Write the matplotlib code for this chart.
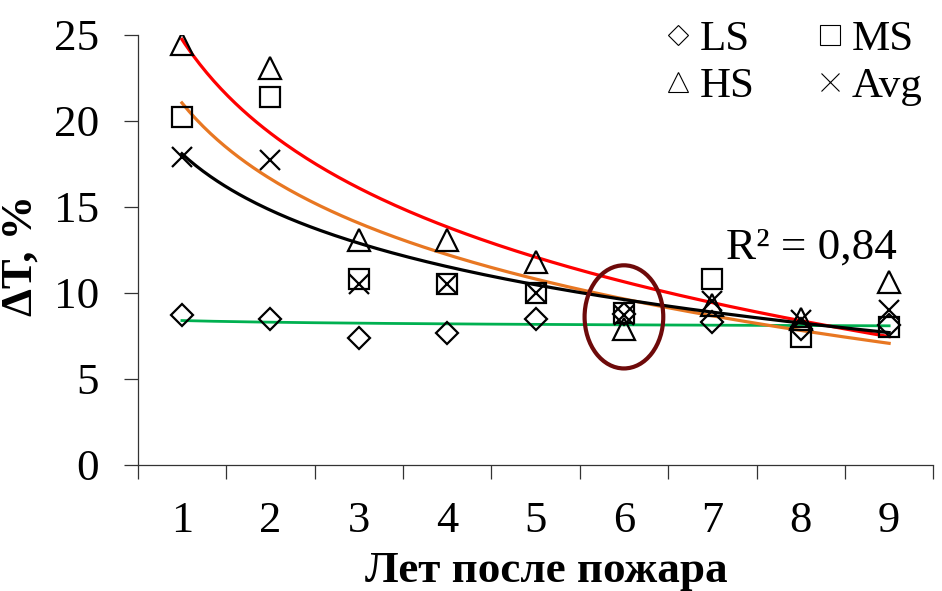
import numpy as np
import matplotlib
matplotlib.use("Agg")
import matplotlib.pyplot as plt
from matplotlib.lines import Line2D
from matplotlib.patches import Ellipse

plt.rcParams['font.family'] = ['Liberation Serif', 'DejaVu Serif']

years = [1, 2, 3, 4, 5, 6, 7, 8, 9]
ls_vals = [8.7, 8.46, 7.35, 7.68, 8.46, 8.75, 8.3, 7.9, 8.1]
ms_vals = [20.2, 21.4, 10.8, 10.5, 10.0, 8.8, 10.8, 7.45, 8.0]
hs_vals = [24.5, 23.1, 13.1, 13.1, 11.8, 7.9, 9.3, 8.5, 10.65]
avg_vals = [17.9, 17.7, 10.5, 10.5, 10.0, 8.7, 9.5, 8.4, 9.0]
ytick_vals = [0, 5, 10, 15, 20, 25]
r2_label = "R² = 0,84"
x_label = "Лет после пожара"
y_label = "ΔT, %"

fig = plt.figure(figsize=(9.42, 5.91), dpi=100)
ax = fig.add_axes([0.1462, 0.2137, 0.8446, 0.7271])

x = np.array(years, dtype=float)
xs = np.linspace(x.min(), x.max(), 200)

def log_fit(vals):
    b, a = np.polyfit(np.log(x), np.array(vals, dtype=float), 1)
    return a + b * np.log(xs)

# trend lines
ax.plot(xs, log_fit(ls_vals), color='#00B050', lw=2.0, zorder=2)
ax.plot(xs, log_fit(hs_vals), color='#FF0000', lw=2.3, zorder=2)
ax.plot(xs, log_fit(ms_vals), color='#E87722', lw=2.3, zorder=2)
ax.plot(xs, log_fit(avg_vals), color='#000000', lw=2.3, zorder=2)

mk = dict(ls='none', mfc='none', mec='black', mew=1.6, zorder=3)
ax.plot(years, ls_vals, marker='D', ms=11.5, **mk)
ax.plot(years, ms_vals, marker='s', ms=15, **mk)
ax.plot(years, hs_vals, marker='^', ms=16, **mk)
ax.plot(years, avg_vals, marker='x', ms=15, **mk)

# highlight ellipse
ax.add_patch(Ellipse((6, 8.6), 0.89, 6.0, fill=False, ec='#6E0A0A', lw=3.0, zorder=4))

ax.text(7.16, 12.0, r2_label, fontsize=32.5, ha='left', va='baseline')

ax.set_xlim(0.5, 9.5)
ax.set_ylim(0, 25)
ax.set_yticks(ytick_vals)
ax.set_xticks(np.arange(0.5, 10.0, 1.0))
ax.set_xticklabels([])
ax.set_xticks(years, minor=True)
ax.set_xticklabels([str(v) for v in years], minor=True)
ax.tick_params(axis='x', which='major', direction='out', length=10, width=0.9, color='#333333')
ax.tick_params(axis='x', which='minor', length=0, pad=26, labelsize=32)
ax.tick_params(axis='y', direction='out', length=10, width=0.9, color='#333333', pad=18, labelsize=32.5)
for s in ['top', 'right']:
    ax.spines[s].set_visible(False)
for s in ['left', 'bottom']:
    ax.spines[s].set_linewidth(0.9)
    ax.spines[s].set_color('#333333')

fig.text(546/942, 1-582/591, x_label, fontsize=32.5, fontweight='bold', ha='center', va='baseline')
fig.text(21/942, 1-255/591, y_label, fontsize=32, fontweight='bold', rotation=90, ha='center', va='center')

lk = dict(ls='none', mfc='none', mec='black', mew=0.8)
handles = [Line2D([], [], marker='D', ms=10, **lk),
           Line2D([], [], marker='^', ms=14, **lk),
           Line2D([], [], marker='s', ms=14, **lk),
           Line2D([], [], marker='x', ms=13.5, **lk)]
labels = ['LS', 'HS', 'MS', 'Avg']
ax.legend(handles, labels, ncol=2, frameon=False, fontsize=31, loc='upper right',
          bbox_to_anchor=(1.0084, 1.075), handlelength=0.6, handletextpad=0.2,
          columnspacing=1.46, labelspacing=0.18, borderaxespad=0.0)

fig.savefig('out.png', dpi=100)
